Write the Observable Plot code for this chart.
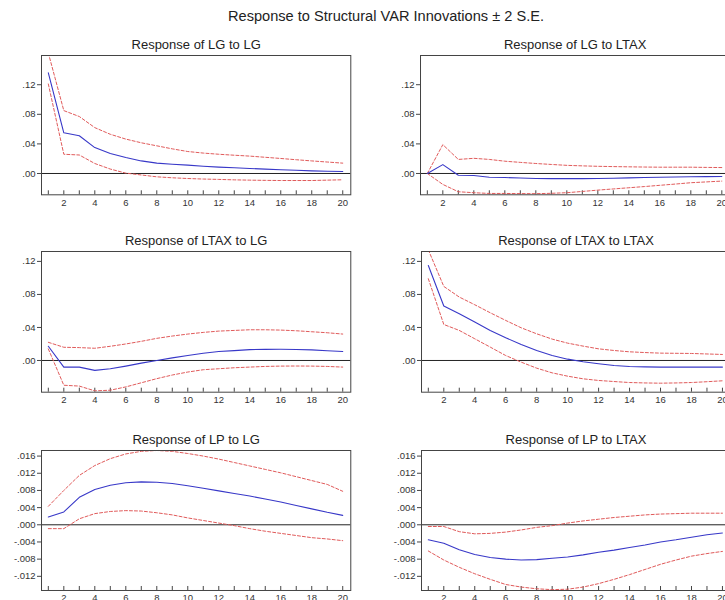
<!DOCTYPE html>
<html><head><meta charset="utf-8">
<script src="https://cdn.jsdelivr.net/npm/d3@7"></script>
<script src="https://cdn.jsdelivr.net/npm/@observablehq/plot@0.6"></script>
<style>
body{margin:0;background:#fff;}
#wrap{position:relative;width:725px;height:600px;overflow:hidden;background:#fff;font-family:"Liberation Sans",Arial,sans-serif;}
#title{position:absolute;left:0;width:772px;top:8px;text-align:center;font-size:14.6px;color:#222;white-space:nowrap;}
.panel{position:absolute;}
</style></head><body>
<div id="wrap"><div id="title">Response to Structural VAR Innovations ± 2 S.E.</div></div>
<script>
const periods = [1,2,3,4,5,6,7,8,9,10,11,12,13,14,15,16,17,18,19,20];
const xLabelTicks = [2,4,6,8,10,12,14,16,18,20];

const titles = ["Response of LG to LG","Response of LG to LTAX","Response of LTAX to LG","Response of LTAX to LTAX","Response of LP to LG","Response of LP to LTAX"];

// Panel 1: LG to LG
const lgLgResp  = [0.136,0.055,0.051,0.035,0.027,0.0216,0.017,0.014,0.0125,0.0113,0.0098,0.0086,0.0077,0.0068,0.0059,0.005,0.0043,0.0036,0.0031,0.0027];
const lgLgUpper = [0.163,0.085,0.077,0.062,0.053,0.0465,0.0415,0.0374,0.0333,0.0297,0.0276,0.026,0.0247,0.0235,0.0219,0.0203,0.0186,0.017,0.0155,0.014];
const lgLgLower = [0.121,0.026,0.025,0.0135,0.006,0.0005,-0.002,-0.0045,-0.0058,-0.0068,-0.0075,-0.008,-0.0086,-0.009,-0.0093,-0.0095,-0.0095,-0.0095,-0.009,-0.0085];
// Panel 2: LG to LTAX
const lgTaxResp  = [0,0.012,-0.0023,-0.0027,-0.005,-0.0055,-0.0062,-0.0068,-0.0069,-0.007,-0.0069,-0.0068,-0.0064,-0.006,-0.0055,-0.005,-0.0048,-0.0045,-0.0042,-0.004];
const lgTaxUpper = [0,0.039,0.019,0.0205,0.019,0.0166,0.015,0.0135,0.0122,0.011,0.0103,0.0097,0.0093,0.009,0.0087,0.0085,0.0085,0.0085,0.0082,0.008];
const lgTaxLower = [0,-0.0148,-0.0247,-0.026,-0.027,-0.027,-0.0272,-0.0273,-0.0268,-0.026,-0.0243,-0.0225,-0.0209,-0.0193,-0.0177,-0.016,-0.0143,-0.0125,-0.0114,-0.0103];
// Panel 3: LTAX to LG
const taxLgResp  = [0.0172,-0.008,-0.008,-0.012,-0.010,-0.0068,-0.0032,0,0.0032,0.006,0.0088,0.0108,0.012,0.0132,0.0135,0.0136,0.0133,0.0128,0.0118,0.0108];
const taxLgUpper = [0.022,0.016,0.0156,0.0148,0.0172,0.020,0.0232,0.0268,0.0296,0.032,0.034,0.0356,0.0364,0.0372,0.0372,0.0368,0.036,0.0348,0.0336,0.032];
const taxLgLower = [0.014,-0.030,-0.031,-0.0368,-0.036,-0.032,-0.027,-0.022,-0.0176,-0.014,-0.0112,-0.010,-0.0088,-0.008,-0.0072,-0.0068,-0.0067,-0.0068,-0.0072,-0.008];
// Panel 4: LTAX to LTAX
const taxTaxResp  = [0.115,0.066,0.0566,0.0465,0.0364,0.0275,0.0194,0.012,0.006,0.0016,-0.0016,-0.004,-0.006,-0.0073,-0.0078,-0.008,-0.008,-0.008,-0.008,-0.008];
const taxTaxUpper = [0.134,0.0897,0.0768,0.0675,0.0578,0.0485,0.0396,0.0323,0.0259,0.021,0.0174,0.0141,0.0121,0.0105,0.0096,0.0089,0.0087,0.0085,0.0079,0.0073];
const taxTaxLower = [0.099,0.0436,0.0364,0.0263,0.0162,0.006,-0.002,-0.0093,-0.015,-0.019,-0.0222,-0.0242,-0.0255,-0.0267,-0.0272,-0.0275,-0.0272,-0.0267,-0.0257,-0.0246];
// Panel 5: LP to LG
const lpLgResp  = [0.0018,0.0030,0.0064,0.0082,0.0092,0.0098,0.010,0.0099,0.0096,0.0091,0.0085,0.0079,0.0073,0.0067,0.006,0.0053,0.0045,0.0037,0.0029,0.0022];
const lpLgUpper = [0.0043,0.008,0.0115,0.0138,0.0154,0.0165,0.0171,0.0173,0.0171,0.0166,0.016,0.0153,0.0145,0.0137,0.0129,0.0121,0.0112,0.0103,0.0094,0.0078];
const lpLgLower = [-0.0009,-0.0009,0.0014,0.0026,0.0031,0.0033,0.0032,0.0028,0.0023,0.0016,0.001,0.0004,-0.0002,-0.0009,-0.0015,-0.002,-0.0025,-0.003,-0.0033,-0.0037];
// Panel 6: LP to LTAX
const lpTaxResp  = [-0.0035,-0.0043,-0.0058,-0.0069,-0.0076,-0.008,-0.0082,-0.0081,-0.0078,-0.0075,-0.007,-0.0064,-0.0059,-0.0053,-0.0047,-0.004,-0.0035,-0.0029,-0.0023,-0.0019];
const lpTaxUpper = [-0.0004,-0.0004,-0.0016,-0.0021,-0.002,-0.0017,-0.0012,-0.0006,-0.0002,0.0004,0.0009,0.0013,0.0017,0.002,0.0023,0.0025,0.0026,0.0027,0.0027,0.0027];
const lpTaxLower = [-0.0061,-0.0082,-0.0099,-0.0114,-0.0127,-0.0139,-0.0145,-0.0149,-0.0151,-0.015,-0.0145,-0.0137,-0.0127,-0.0116,-0.0104,-0.0092,-0.0082,-0.0073,-0.0067,-0.0062];

const yTicksTop = [0,0.04,0.08,0.12];
const yLabelsTop = [".00",".04",".08",".12"];
const yTicksLP = [-0.012,-0.008,-0.004,0,0.004,0.008,0.012,0.016];
const yLabelsLP = ["-.012","-.008","-.004",".000",".004",".008",".012",".016"];

const FONT = '"Liberation Sans", Arial, sans-serif';
const wrap = document.getElementById("wrap");

function panel({title, resp, upper, lower, yDomain, yTicks, yLabels, left, top, right, bottom}) {
  const mL = 44, mR = 6, mT = 30, mB = 24;
  const fw = right - left, fh = bottom - top;
  const rows = periods.map((p, i) => ({p, r: resp[i], u: upper[i], l: lower[i]}));
  const span = yDomain[1] - yDomain[0];
  const tickLen = span * 4 / fh;
  const svg = Plot.plot({
    width: mL + fw + mR, height: mT + fh + mB,
    marginLeft: mL, marginRight: mR, marginTop: mT, marginBottom: mB,
    x: {domain: [0.56, 20.52], label: null},
    y: {domain: yDomain, label: null},
    style: {fontFamily: FONT, fontSize: "9.5px", color: "#333", background: "transparent", overflow: "visible"},
    marks: [
      Plot.axisY({ticks: yTicks, tickFormat: d => yLabels[yTicks.indexOf(d)], tickSize: 4, tickPadding: 2, stroke: "#444", fill: "#333", label: null}),
      Plot.axisX({ticks: xLabelTicks, tickSize: 0, tickPadding: 4, fill: "#333", label: null}),
      Plot.ruleX(periods, {x: d => d, y1: yDomain[0], y2: yDomain[0] + tickLen, stroke: "#444"}),
      Plot.ruleY([0], {stroke: "#222", strokeWidth: 1}),
      Plot.line(rows, {x: "p", y: "u", stroke: "#e05a5a", strokeWidth: 1, strokeDasharray: "3,2", clip: true}),
      Plot.line(rows, {x: "p", y: "l", stroke: "#e05a5a", strokeWidth: 1, strokeDasharray: "3,2", clip: true}),
      Plot.line(rows, {x: "p", y: "r", stroke: "#3838c8", strokeWidth: 1.1, clip: true}),
      Plot.frame({stroke: "#444"}),
      Plot.text([title], {frameAnchor: "top", dy: -16, fontSize: 13, fill: "#222"})
    ]
  });
  svg.classList.add("panel");
  svg.style.left = (left - mL) + "px";
  svg.style.top = (top - mT) + "px";
  svg.style.position = "absolute";
  wrap.appendChild(svg);
}

const topDom = [-0.0288, 0.1595];
const midDom = [-0.0384, 0.132];
const lpDom = [-0.0153, 0.0173];

panel({title: titles[0], resp: lgLgResp, upper: lgLgUpper, lower: lgLgLower, yDomain: topDom, yTicks: yTicksTop, yLabels: yLabelsTop, left: 40.7, top: 54.7, right: 350, bottom: 194});
panel({title: titles[1], resp: lgTaxResp, upper: lgTaxUpper, lower: lgTaxLower, yDomain: topDom, yTicks: yTicksTop, yLabels: yLabelsTop, left: 420, top: 54.7, right: 729.4, bottom: 194});
panel({title: titles[2], resp: taxLgResp, upper: taxLgUpper, lower: taxLgLower, yDomain: midDom, yTicks: yTicksTop, yLabels: yLabelsTop, left: 40.7, top: 251, right: 350, bottom: 391.7});
panel({title: titles[3], resp: taxTaxResp, upper: taxTaxUpper, lower: taxTaxLower, yDomain: midDom, yTicks: yTicksTop, yLabels: yLabelsTop, left: 421, top: 251, right: 730, bottom: 391.7});
panel({title: titles[4], resp: lpLgResp, upper: lpLgUpper, lower: lpLgLower, yDomain: lpDom, yTicks: yTicksLP, yLabels: yLabelsLP, left: 40.7, top: 450, right: 350, bottom: 590});
panel({title: titles[5], resp: lpTaxResp, upper: lpTaxUpper, lower: lpTaxLower, yDomain: lpDom, yTicks: yTicksLP, yLabels: yLabelsLP, left: 421, top: 450, right: 730, bottom: 590});
</script>
</body></html>
